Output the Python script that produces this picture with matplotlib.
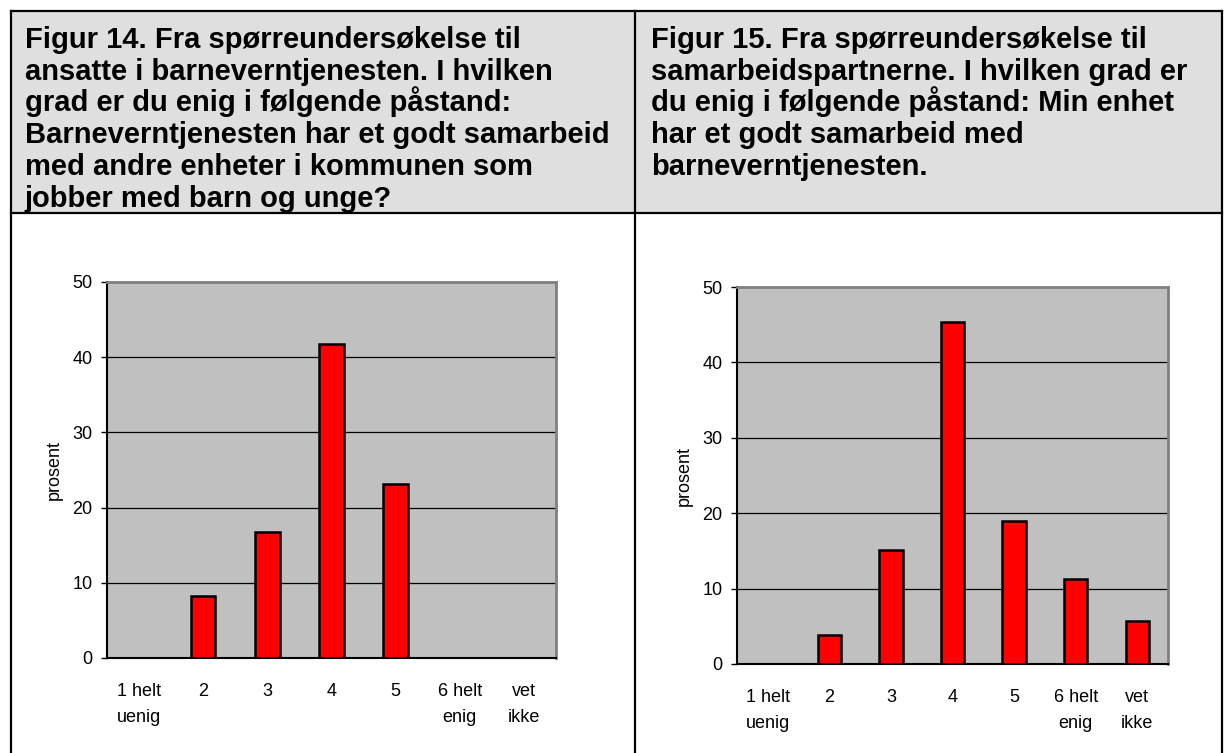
"""
Figur 14 og 15 - samarbeid med barneverntjenesten
"""
import numpy as np
import matplotlib
matplotlib.use('Agg')
import matplotlib.pyplot as plt
from matplotlib.patches import Rectangle

plt.rcParams['font.family'] = ['Liberation Sans', 'DejaVu Sans']

W, H = 1224, 753  # pixels

categories = ['1 helt\nuenig', '2', '3', '4', '5', '6 helt\nenig', 'vet\nikke']
fig14_values = [0, 8.3, 16.7, 41.7, 23.1, 0, 0]
fig15_values = [0, 3.8, 15.1, 45.3, 18.9, 11.3, 5.7]
yticks = [0, 10, 20, 30, 40, 50]

title14 = ['Figur 14. Fra spørreundersøkelse til',
           'ansatte i barneverntjenesten. I hvilken',
           'grad er du enig i følgende påstand:',
           'Barneverntjenesten har et godt samarbeid',
           'med andre enheter i kommunen som',
           'jobber med barn og unge?']
title15 = ['Figur 15. Fra spørreundersøkelse til',
           'samarbeidspartnerne. I hvilken grad er',
           'du enig i følgende påstand: Min enhet',
           'har et godt samarbeid med',
           'barneverntjenesten.']

fig = plt.figure(figsize=(W/100, H/100), dpi=100)

# table in pixel coords
bg = fig.add_axes([0, 0, 1, 1])
bg.set_xlim(0, W)
bg.set_ylim(H, 0)
bg.axis('off')
bg.add_patch(Rectangle((11, 11), 1211, 202, facecolor='#dfdfdf', edgecolor='none'))
lw = 1.6
bg.plot([11, 1222], [11, 11], color='black', lw=lw)
bg.plot([11, 1222], [213, 213], color='black', lw=lw)
bg.plot([11, 11], [11, H], color='black', lw=lw)
bg.plot([635, 635], [11, H], color='black', lw=lw)
bg.plot([1222, 1222], [11, H], color='black', lw=lw)

for i, line in enumerate(title14):
    bg.text(25, 48 + 31.7*i, line, fontsize=21, fontweight='bold', va='baseline', ha='left')
for i, line in enumerate(title15):
    bg.text(651, 48 + 31.7*i, line, fontsize=21, fontweight='bold', va='baseline', ha='left')


def draw_chart(rect_px, values):
    x0, y0, x1, y1 = rect_px
    ax = fig.add_axes([x0/W, 1 - y1/H, (x1-x0)/W, (y1-y0)/H])
    ax.set_facecolor('#c0c0c0')
    x = np.arange(len(categories))
    ax.bar(x, values, width=0.38, color='#ff0000', edgecolor='black', linewidth=1.8, zorder=3)
    ax.set_xlim(-0.5, len(categories) - 0.5)
    ax.set_ylim(0, 50)
    ax.set_yticks(yticks)
    ax.set_xticks(x)
    ax.set_xticklabels(categories, linespacing=1.7)
    ax.tick_params(axis='x', length=0, pad=18, labelsize=13)
    ax.tick_params(axis='y', length=4.5, width=1, pad=6, labelsize=13, direction='out')
    for v in yticks[1:-1]:
        ax.axhline(v, color='black', lw=0.9, zorder=1)
    ax.spines['left'].set_color('black')
    ax.spines['bottom'].set_color('black')
    ax.spines['left'].set_linewidth(1.5)
    ax.spines['bottom'].set_linewidth(1.5)
    ax.spines['top'].set_color('#808080')
    ax.spines['right'].set_color('#808080')
    ax.spines['top'].set_linewidth(2)
    ax.spines['right'].set_linewidth(2)
    ax.set_ylabel('prosent', fontsize=13, labelpad=7)
    return ax


draw_chart((107, 282, 556, 658), fig14_values)
draw_chart((737, 287, 1168, 664), fig15_values)

fig.savefig('out.png', dpi=100)
